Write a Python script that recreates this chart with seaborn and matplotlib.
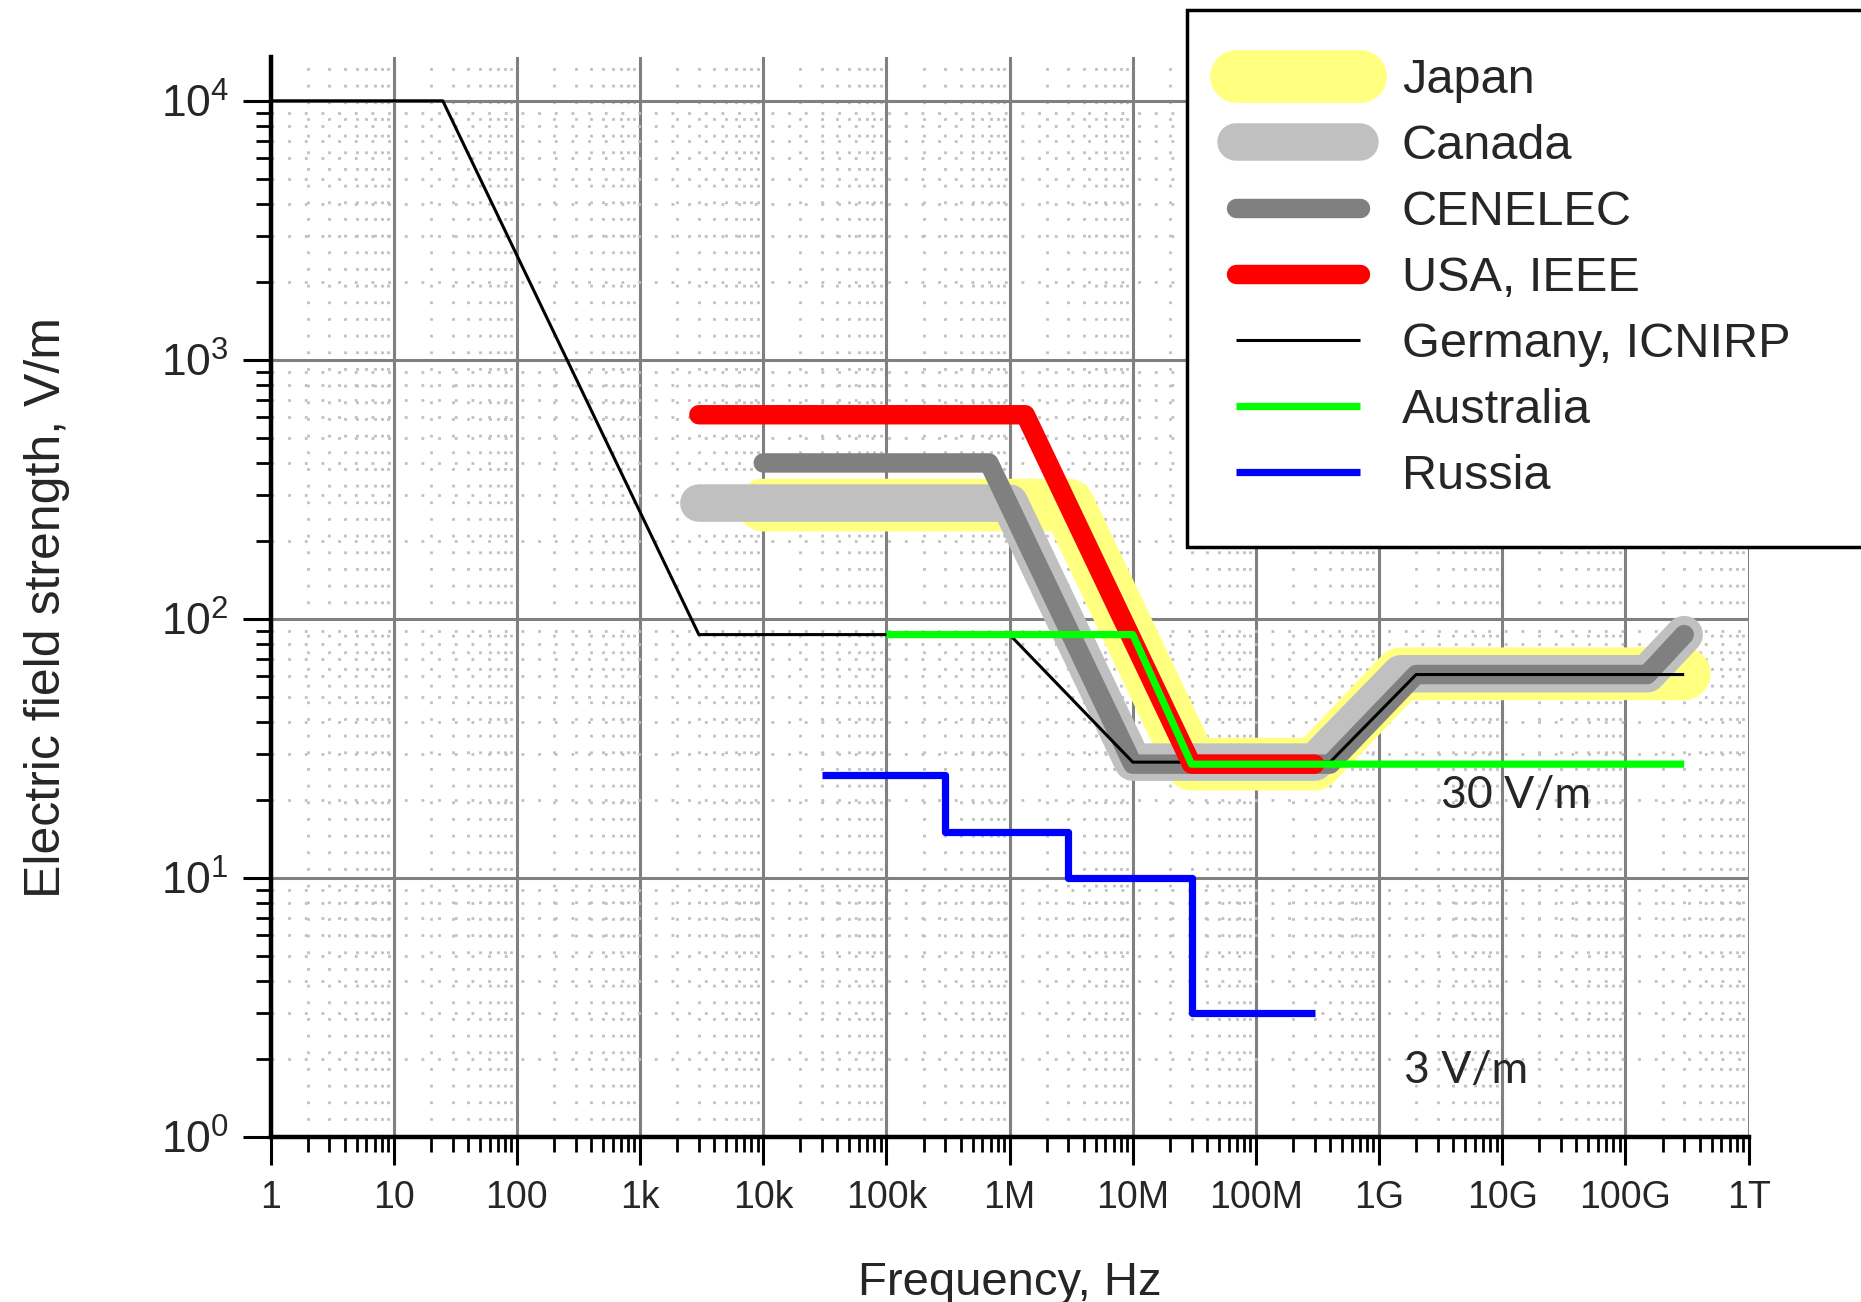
import matplotlib
matplotlib.use('Agg')
import matplotlib.pyplot as plt
import matplotlib.ticker as mticker
import seaborn as sns
import pandas as pd

# ---------------- data ----------------
japan_f = [1e4, 3e6, 3e7, 3e8, 1.5e9, 3e11]
japan_e = [275, 275, 27.5, 27.5, 61.4, 61.4]

canada_f = [3e3, 1e6, 1e7, 3e8, 1.5e9, 1.5e11, 3e11]
canada_e = [280, 280, 28, 28, 61.4, 61.4, 87]

cenelec_f = [1e4, 6.8e5, 1e7, 4e8, 2e9, 1.5e11, 3e11]
cenelec_e = [400, 400, 27.5, 27.5, 61, 61, 87]

usa_f = [3e3, 1.34e6, 3e7, 3e8]
usa_e = [614, 614, 27.5, 27.5]

germany_f = [1, 25, 3e3, 1e6, 1e7, 4e8, 2e9, 3e11]
germany_e = [1e4, 1e4, 87, 87, 28, 28, 61, 61]

australia_f = [1e5, 1e7, 3e7, 3e11]
australia_e = [87, 87, 27.5, 27.5]

russia_f = [3e4, 3e5, 3e6, 3e7, 3e8]
russia_e = [25, 15, 10, 3, 3]

series_names = ['Japan', 'Canada', 'CENELEC', 'USA, IEEE',
                'Germany, ICNIRP', 'Australia', 'Russia']

x_tick_values = [10.0 ** i for i in range(13)]
x_tick_labels = ['1', '10', '100', '1k', '10k', '100k', '1M', '10M',
                 '100M', '1G', '10G', '100G', '1T']
y_tick_values = [1, 10, 100, 1000, 10000]
y_tick_labels = [r'$10^{0}$', r'$10^{1}$', r'$10^{2}$', r'$10^{3}$', r'$10^{4}$']

# ---------------- styling ----------------
sns.set_theme(style='white')
plt.rcParams['font.family'] = ['Liberation Sans', 'DejaVu Sans']
plt.rcParams['mathtext.default'] = 'regular'

fig = plt.figure(figsize=(18.61, 13.02), dpi=100)
ax = fig.add_axes([0.1454, 0.1267, 0.7942, 0.8293])

styles = {
    'Japan':           dict(color='#ffff80', lw=38, z=2, cap='round'),
    'Canada':          dict(color='#c0c0c0', lw=27, z=3, cap='round'),
    'CENELEC':         dict(color='#808080', lw=14, z=4, cap='round'),
    'USA, IEEE':       dict(color='#ff0000', lw=14, z=6, cap='round'),
    'Germany, ICNIRP': dict(color='#000000', lw=2.2, z=5, cap='butt'),
    'Australia':       dict(color='#00ff00', lw=5.2, z=7, cap='butt'),
    'Russia':          dict(color='#0000ff', lw=5.2, z=8, cap='butt'),
}
data = {
    'Japan': (japan_f, japan_e),
    'Canada': (canada_f, canada_e),
    'CENELEC': (cenelec_f, cenelec_e),
    'USA, IEEE': (usa_f, usa_e),
    'Germany, ICNIRP': (germany_f, germany_e),
    'Australia': (australia_f, australia_e),
    'Russia': (russia_f, russia_e),
}

for name in series_names:
    f, e = data[name]
    st = styles[name]
    df = pd.DataFrame({'f': f, 'e': e})
    kw = {}
    if name == 'Russia':
        kw['drawstyle'] = 'steps-post'
    sns.lineplot(data=df, x='f', y='e', ax=ax, estimator=None, sort=False,
                 color=st['color'], linewidth=st['lw'], zorder=st['z'],
                 solid_capstyle=st['cap'], solid_joinstyle='round',
                 label=name, **kw)

ax.set_xscale('log')
ax.set_yscale('log')
ax.set_xlim(1, 1e12)
ax.set_ylim(1, 10 ** 4.168)

ax.xaxis.set_major_locator(mticker.FixedLocator(x_tick_values))
ax.xaxis.set_major_formatter(mticker.FixedFormatter(x_tick_labels))
ax.xaxis.set_minor_locator(mticker.LogLocator(base=10, subs=range(2, 10), numticks=200))
ax.xaxis.set_minor_formatter(mticker.NullFormatter())
ax.yaxis.set_major_locator(mticker.FixedLocator(y_tick_values))
ax.yaxis.set_major_formatter(mticker.FixedFormatter(y_tick_labels))
ax.yaxis.set_minor_locator(mticker.LogLocator(base=10, subs=range(2, 10), numticks=200))
ax.yaxis.set_minor_formatter(mticker.NullFormatter())

ax.set_axisbelow(True)
ax.grid(which='major', color='#808080', linewidth=2.2, linestyle='-')
ax.grid(which='minor', color='#c0c0c0', linewidth=2.0, linestyle=(0, (1, 5)))

for s in ['top', 'right']:
    ax.spines[s].set_visible(False)
for s in ['left', 'bottom']:
    ax.spines[s].set_color('black')
    ax.spines[s].set_linewidth(3.2)
    ax.spines[s].set_zorder(10)

ax.tick_params(axis='both', which='major', direction='out', length=20, width=2.2,
               color='black', bottom=True, left=True)
ax.tick_params(axis='both', which='minor', direction='out', length=11, width=2.0,
               color='black', bottom=True, left=True)
ax.tick_params(axis='x', which='major', labelsize=27, pad=11)
ax.tick_params(axis='y', which='major', labelsize=32, pad=10)

ax.set_xlabel('Frequency, Hz', fontsize=34)
ax.set_ylabel('Electric field strength, V/m', fontsize=36)
ax.xaxis.set_label_coords(0.5, -0.115)
ax.yaxis.set_label_coords(-0.136, 0.49)

ax.text(10 ** 10.11, 20.9, '30 V/m', ha='center', va='center', fontsize=32,
        family=['Lato', 'DejaVu Sans'], zorder=12)
ax.text(10 ** 9.71, 1.81, '3 V/m', ha='center', va='center', fontsize=32,
        family=['Lato', 'DejaVu Sans'], zorder=12)

handles, labels = ax.get_legend_handles_labels()
order = [labels.index(n) for n in series_names]
leg = ax.legend([handles[i] for i in order], [labels[i] for i in order],
                loc='upper left', bbox_to_anchor=(0.6378, 0.9927, 0.40, 0.0),
                bbox_transform=fig.transFigure, borderaxespad=0, mode='expand',
                fontsize=35, handlelength=2.57, handletextpad=0.85,
                borderpad=1.0, labelspacing=0.43, frameon=True,
                fancybox=False, framealpha=1, edgecolor='black')
leg.get_frame().set_linewidth(2.5)
leg.set_zorder(20)

fig.savefig('out.png', dpi=100)
